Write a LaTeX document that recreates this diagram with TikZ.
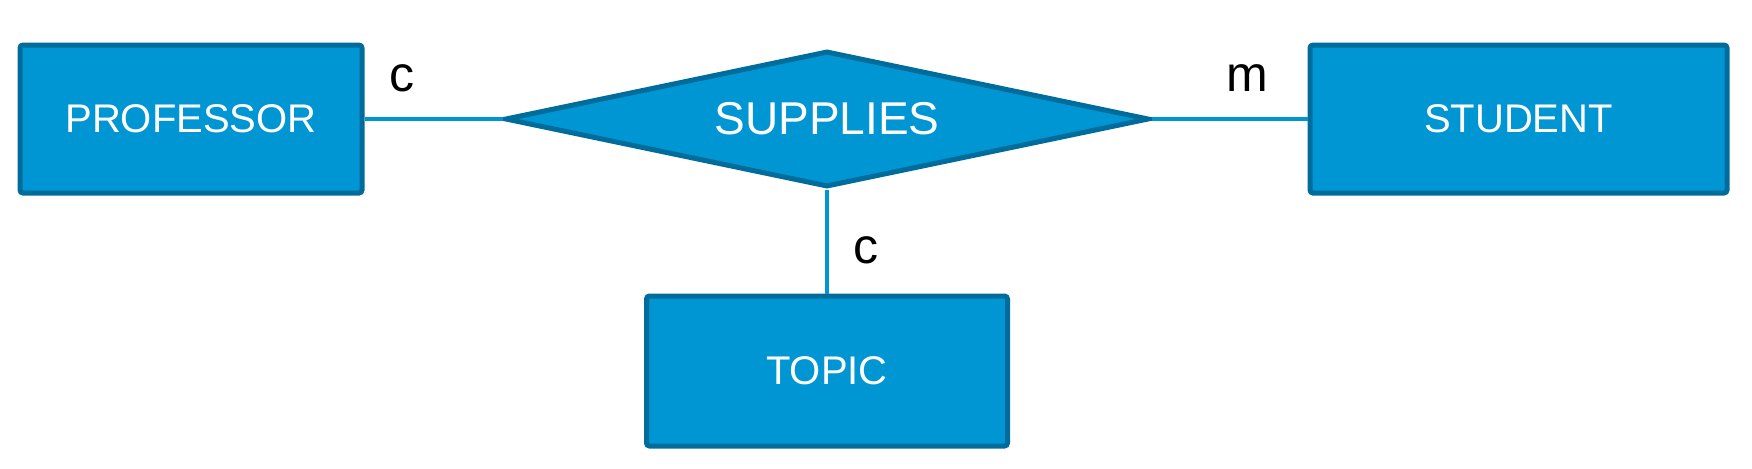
\documentclass[tikz,border=0pt]{standalone}
\usepackage{fontspec}
\setmainfont{Liberation Sans}
\usetikzlibrary{shapes.geometric}
\definecolor{erfill}{RGB}{0,149,211}
\definecolor{erborder}{RGB}{0,108,155}
\definecolor{erline}{RGB}{0,149,211}
\tikzset{
  entity/.style={rectangle, draw=erborder, fill=erfill, line width=2.5pt, rounded corners=1.5pt,
    text=white, font=\fontsize{20pt}{24pt}\selectfont, inner sep=0pt},
  relation/.style={diamond, draw=erborder, fill=erfill, line width=2.5pt, text=white,
    font=\fontsize{23pt}{27pt}\selectfont, inner sep=0pt, shape aspect=4.7},
  conn/.style={draw=erline, line width=2pt},
  card/.style={text=black, font=\fontsize{25pt}{30pt}\selectfont, inner sep=0pt}
}
\begin{document}
\begin{tikzpicture}[x=0.5pt,y=-0.5pt]
\useasboundingbox (0,0) rectangle (1752,468);
\node[entity, minimum width=171pt, minimum height=74pt] (prof) at (191,119) {\raisebox{-1pt}{PROFESSOR}};
\node[entity, minimum width=208.5pt, minimum height=74pt] (stud) at (1518.5,119) {\raisebox{-1pt}{STUDENT}};
\node[entity, minimum width=180.5pt, minimum height=75pt] (topic) at (827,371) {\raisebox{-1pt}{TOPIC}};
\node[relation, minimum width=322pt, minimum height=68pt] (sup) at (827,119) {\raisebox{-1pt}{SUPPLIES}};
\draw[conn] (prof.east) -- (sup.west);
\draw[conn] (sup.east) -- (stud.west);
\draw[conn] (sup.south) -- (topic.north);
\node[card] (c1) at (402,78) {c};
\node[card] (m1) at (1247,78) {m};
\node[card] (c2) at (866,250) {c};
\end{tikzpicture}
\end{document}
